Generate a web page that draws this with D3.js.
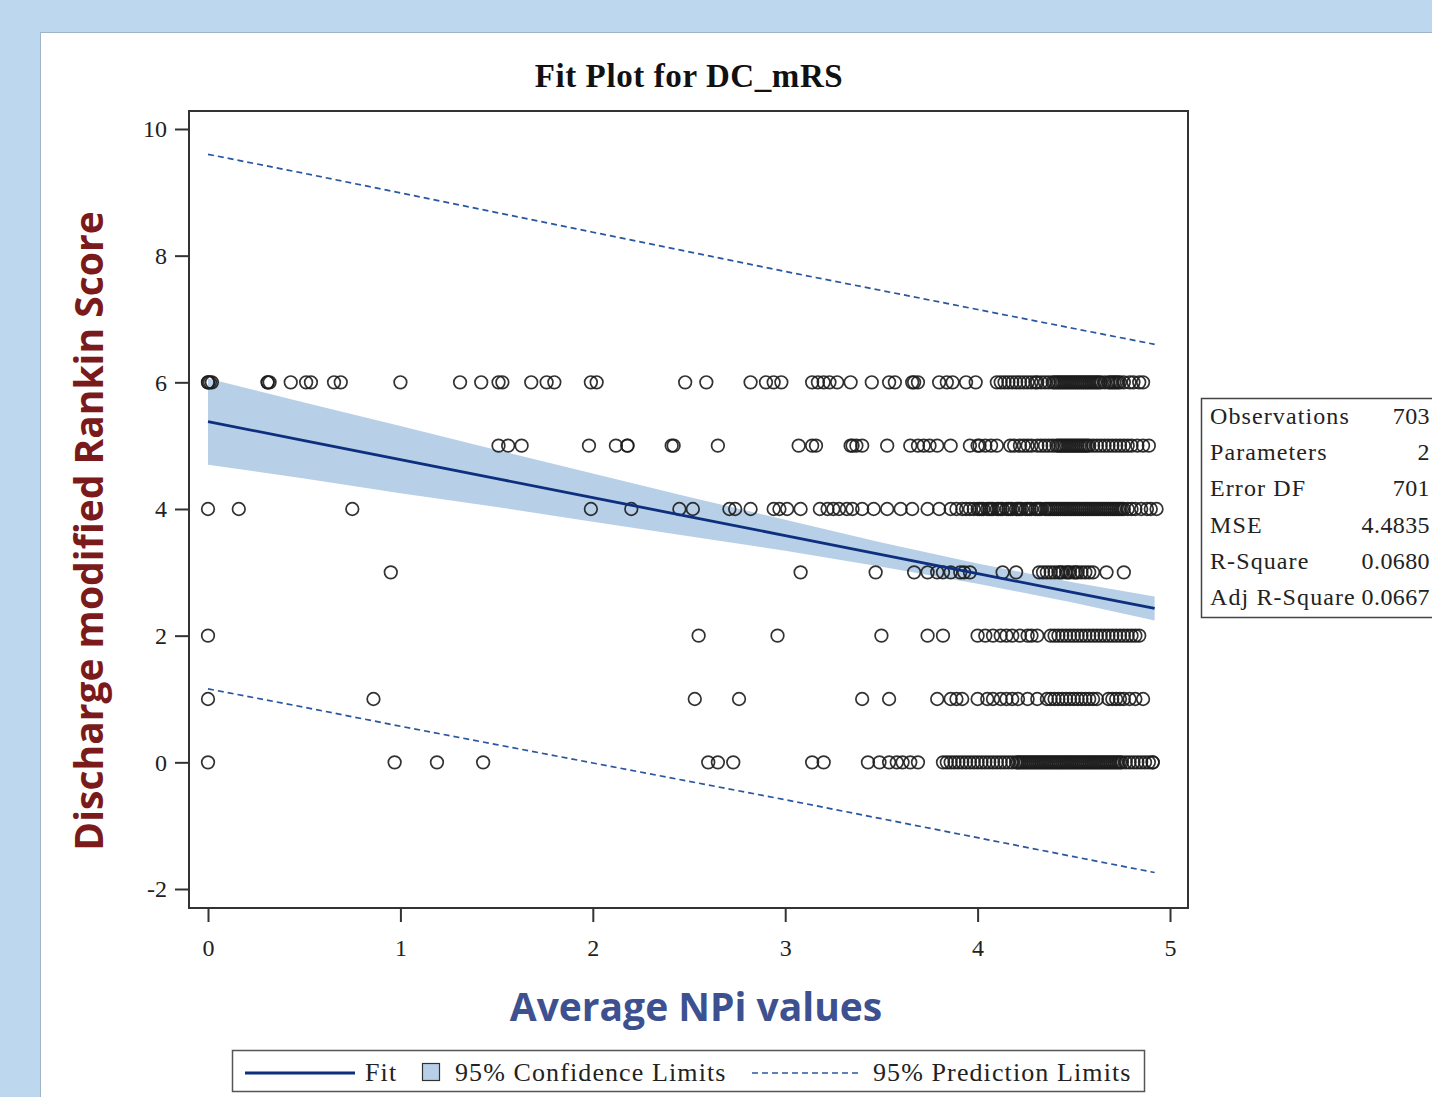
<!DOCTYPE html>
<html><head><meta charset="utf-8">
<script src="https://cdn.jsdelivr.net/npm/d3@7"></script>
<style>
html,body{margin:0;padding:0;background:#bdd7ee;}
svg{display:block;}
</style></head>
<body>
<svg id="chart" width="1432" height="1097"></svg>
<script>
// ---------- data ----------
const title = "Fit Plot for DC_mRS";
const xTitle = "Average NPi values";
const yTitle = "Discharge modified Rankin Score";
const xTicks = [0, 1, 2, 3, 4, 5];
const yTicks = [-2, 0, 2, 4, 6, 8, 10];
const xTickLabels = ["0", "1", "2", "3", "4", "5"];
const yTickLabels = ["-2", "0", "2", "4", "6", "8", "10"];

// observed NPi values for each discharge mRS level
const obs6 = [0.00, 0.00, 0.01, 0.02, 0.31, 0.31, 0.32, 0.43, 0.51, 0.535, 0.655, 0.69, 1.00, 1.31, 1.42, 1.51, 1.53, 1.68, 1.76, 1.80, 1.99, 2.02,
  2.48, 2.59, 2.82, 2.90, 2.94, 2.98, 3.14, 3.17, 3.20, 3.23, 3.27, 3.34, 3.45, 3.54, 3.57, 3.66, 3.67, 3.69, 3.80, 3.84, 3.87, 3.94, 3.99,
  4.10, 4.12, 4.14, 4.16, 4.18, 4.20, 4.22, 4.24, 4.26, 4.28, 4.30, 4.31, 4.33, 4.35, 4.37, 4.39, 4.40, 4.41, 4.42, 4.43, 4.44, 4.45, 4.46,
  4.47, 4.48, 4.49, 4.50, 4.51, 4.52, 4.53, 4.54, 4.55, 4.56, 4.57, 4.58, 4.59, 4.60, 4.61, 4.62, 4.63, 4.64, 4.66, 4.68, 4.69, 4.70, 4.71,
  4.72, 4.73, 4.74, 4.76, 4.79, 4.81, 4.84, 4.86];
const obs5 = [1.51, 1.56, 1.63, 1.98, 2.12, 2.18, 2.18, 2.41, 2.42, 2.65, 3.07, 3.14, 3.16, 3.34, 3.35, 3.37, 3.40, 3.53, 3.65, 3.69, 3.72,
  3.75, 3.79, 3.86, 3.96, 4.00, 4.01, 4.04, 4.07, 4.10, 4.17, 4.19, 4.22, 4.24, 4.26, 4.28, 4.31, 4.33, 4.35, 4.37, 4.39, 4.41, 4.42, 4.43,
  4.44, 4.45, 4.46, 4.47, 4.48, 4.49, 4.50, 4.51, 4.52, 4.53, 4.54, 4.55, 4.56, 4.57, 4.58, 4.60, 4.62, 4.64, 4.66, 4.68, 4.70, 4.72, 4.74,
  4.76, 4.78, 4.80, 4.83, 4.86, 4.89];
const obs4 = [0.00, 0.16, 0.75, 1.99, 2.20, 2.45, 2.52, 2.71, 2.74, 2.82, 2.94, 2.97, 3.01, 3.08, 3.18, 3.22, 3.25, 3.28, 3.32, 3.35, 3.40,
  3.46, 3.53, 3.60, 3.66, 3.74, 3.80, 3.86, 3.89, 3.92, 3.94, 3.96, 3.98, 4.00, 4.01, 4.02, 4.03, 4.05, 4.06, 4.07, 4.08, 4.10, 4.11, 4.12,
  4.13, 4.15, 4.16, 4.17, 4.18, 4.20, 4.21, 4.22, 4.23, 4.25, 4.26, 4.27, 4.28, 4.30, 4.31, 4.32, 4.33, 4.35, 4.36, 4.37, 4.38, 4.39, 4.40,
  4.41, 4.42, 4.43, 4.44, 4.45, 4.46, 4.47, 4.48, 4.49, 4.50, 4.51, 4.52, 4.53, 4.54, 4.55, 4.56, 4.57, 4.58, 4.59, 4.60, 4.61, 4.62, 4.63,
  4.64, 4.65, 4.66, 4.67, 4.68, 4.69, 4.70, 4.71, 4.72, 4.73, 4.74, 4.75, 4.76, 4.78, 4.80, 4.82, 4.85, 4.88, 4.90, 4.93];
const obs3 = [0.95, 3.08, 3.47, 3.67, 3.74, 3.79, 3.82, 3.86, 3.91, 3.93, 3.96, 4.13, 4.20, 4.32, 4.34, 4.36, 4.38, 4.40, 4.42, 4.43, 4.44,
  4.46, 4.47, 4.48, 4.50, 4.51, 4.52, 4.54, 4.56, 4.58, 4.60, 4.67, 4.76];
const obs2 = [0.00, 2.55, 2.96, 3.50, 3.74, 3.82, 4.00, 4.04, 4.08, 4.12, 4.15, 4.18, 4.22, 4.26, 4.28, 4.31, 4.38, 4.40, 4.42, 4.44, 4.46,
  4.48, 4.50, 4.52, 4.54, 4.56, 4.58, 4.60, 4.62, 4.64, 4.66, 4.68, 4.70, 4.72, 4.74, 4.76, 4.78, 4.80, 4.82, 4.84];
const obs1 = [0.00, 0.86, 2.53, 2.76, 3.40, 3.54, 3.79, 3.86, 3.89, 3.92, 4.00, 4.05, 4.08, 4.12, 4.15, 4.18, 4.21, 4.26, 4.31, 4.36, 4.38,
  4.40, 4.42, 4.44, 4.46, 4.48, 4.50, 4.52, 4.54, 4.56, 4.58, 4.60, 4.62, 4.68, 4.70, 4.72, 4.74, 4.76, 4.79, 4.82, 4.86];
const obs0 = [0.00, 0.97, 1.19, 1.43, 2.60, 2.65, 2.73, 3.14, 3.20, 3.43, 3.49, 3.54, 3.58, 3.61, 3.65, 3.69, 3.82, 3.84, 3.86, 3.88, 3.90,
  3.92, 3.94, 3.96, 3.98, 4.00, 4.02, 4.04, 4.06, 4.08, 4.10, 4.12, 4.14, 4.16, 4.18, 4.20, 4.21, 4.22, 4.23, 4.24, 4.25, 4.26, 4.27, 4.28,
  4.29, 4.30, 4.31, 4.32, 4.33, 4.34, 4.35, 4.36, 4.37, 4.38, 4.39, 4.40, 4.41, 4.42, 4.43, 4.44, 4.45, 4.46, 4.47, 4.48, 4.49, 4.50, 4.51,
  4.52, 4.53, 4.54, 4.55, 4.56, 4.57, 4.58, 4.59, 4.60, 4.61, 4.62, 4.63, 4.64, 4.65, 4.66, 4.67, 4.68, 4.69, 4.70, 4.71, 4.72, 4.73, 4.74,
  4.75, 4.77, 4.79, 4.81, 4.83, 4.85, 4.87, 4.89, 4.91, 4.91];
const mrsLevels = [6, 5, 4, 3, 2, 1, 0];
const obsByLevel = [obs6, obs5, obs4, obs3, obs2, obs1, obs0];

// fit, confidence and prediction limits
const fitX    = [0, 0.5, 1, 1.5, 2, 2.5, 3, 3.5, 4, 4.5, 4.92];
const fitY    = [5.38, 5.08, 4.78, 4.48, 4.18, 3.88, 3.58, 3.28, 2.98, 2.68, 2.43];
const upperCL = [6.06, 5.68, 5.31, 4.93, 4.56, 4.19, 3.83, 3.47, 3.14, 2.84, 2.62];
const lowerCL = [4.70, 4.48, 4.25, 4.03, 3.80, 3.57, 3.34, 3.09, 2.82, 2.52, 2.24];
const upperPL = [9.60, 9.30, 8.99, 8.68, 8.37, 8.06, 7.75, 7.45, 7.15, 6.85, 6.60];
const lowerPL = [1.16, 0.87, 0.57, 0.28, -0.01, -0.30, -0.59, -0.89, -1.19, -1.49, -1.74];

// fit statistics
const statLabels = ["Observations", "Parameters", "Error DF", "MSE", "R-Square", "Adj R-Square"];
const statValues = ["703", "2", "701", "4.4835", "0.0680", "0.0667"];

const legendLabels = ["Fit", "95% Confidence Limits", "95% Prediction Limits"];

// ---------- drawing ----------
const svg = d3.select("#chart");
const serif = "'Liberation Serif','Times New Roman',serif";
const sans = "'Open Sans','Noto Sans',sans-serif";

// panel
svg.append("rect").attr("x", 40.5).attr("y", 32.5).attr("width", 1420).attr("height", 1100)
  .attr("fill", "#fff").attr("stroke", "#9fb4c8").attr("stroke-width", 1);

const L = 189, R = 1188, T = 111, B = 908;
const x = d3.scaleLinear().domain([-0.0988, 5.0935]).range([L, R]);
const y = d3.scaleLinear().domain([-2.30, 10.284]).range([B, T]);

// title
svg.append("text").attr("x", 689).attr("y", 87).attr("text-anchor", "middle")
  .attr("font-family", serif).attr("font-weight", "bold").attr("font-size", 33).attr("letter-spacing", 0.6)
  .attr("fill", "#111").text(title);

const plot = svg.append("g");

// confidence band
const band = fitX.map((d, i) => ({x: d, lo: lowerCL[i], hi: upperCL[i]}));
plot.append("path").datum(band)
  .attr("d", d3.area().x(d => x(d.x)).y0(d => y(d.lo)).y1(d => y(d.hi)))
  .attr("fill", "#b8cfe8");

// points
const pts = [];
obsByLevel.forEach((arr, k) => arr.forEach(v => pts.push({x: v, y: mrsLevels[k]})));
plot.append("g").selectAll("circle").data(pts).join("circle")
  .attr("cx", d => x(d.x)).attr("cy", d => y(d.y)).attr("r", 6.3)
  .attr("fill", "none").attr("stroke", "#1c1c1c").attr("stroke-width", 1.7).attr("stroke-opacity", 0.9);

// fit line
const fitPts = fitX.map((d, i) => [x(d), y(fitY[i])]);
plot.append("path").attr("d", d3.line()(fitPts))
  .attr("fill", "none").attr("stroke", "#0d2f7e").attr("stroke-width", 2.8);

// prediction limits
[upperPL, lowerPL].forEach(arr => {
  plot.append("path").attr("d", d3.line()(fitX.map((d, i) => [x(d), y(arr[i])])))
    .attr("fill", "none").attr("stroke", "#2a55a0").attr("stroke-width", 1.7)
    .attr("stroke-dasharray", "6,4");
});

// frame
svg.append("rect").attr("x", L).attr("y", T).attr("width", R - L).attr("height", B - T)
  .attr("fill", "none").attr("stroke", "#333").attr("stroke-width", 2);

// axes
const yAxis = svg.append("g").attr("transform", `translate(${L},0)`)
  .call(d3.axisLeft(y).tickValues(yTicks).tickSize(14).tickSizeOuter(0).tickPadding(8)
    .tickFormat((d, i) => yTickLabels[i]));
const xAxis = svg.append("g").attr("transform", `translate(0,${B})`)
  .call(d3.axisBottom(x).tickValues(xTicks).tickSize(14).tickSizeOuter(0).tickPadding(17)
    .tickFormat((d, i) => xTickLabels[i]));
[yAxis, xAxis].forEach(a => {
  a.select(".domain").remove();
  a.selectAll(".tick line").attr("stroke", "#333").attr("stroke-width", 2);
  a.selectAll(".tick text").attr("font-family", serif).attr("font-size", 24).attr("fill", "#222");
});

// axis titles
svg.append("text").attr("transform", "translate(103,531) rotate(-90)").attr("text-anchor", "middle")
  .attr("font-family", sans).attr("font-weight", "bold").attr("font-size", 39)
  .attr("fill", "#7b1a1a").text(yTitle);
svg.append("text").attr("x", 696).attr("y", 1021).attr("text-anchor", "middle")
  .attr("font-family", sans).attr("font-weight", "bold").attr("font-size", 39)
  .attr("fill", "#3d5190").text(xTitle);

// stats box
const sb = svg.append("g");
sb.append("rect").attr("x", 1201.5).attr("y", 398.5).attr("width", 260).attr("height", 219)
  .attr("fill", "#fff").attr("stroke", "#444").attr("stroke-width", 1.5);
statLabels.forEach((s, i) => {
  sb.append("text").attr("x", 1210).attr("y", 424 + i * 36.2)
    .attr("font-family", serif).attr("font-size", 24).attr("letter-spacing", 1.1).attr("fill", "#222").text(s);
  sb.append("text").attr("x", 1430).attr("y", 424 + i * 36.2).attr("text-anchor", "end")
    .attr("font-family", serif).attr("font-size", 24).attr("letter-spacing", 0.4).attr("fill", "#222").text(statValues[i]);
});

// legend
const lg = svg.append("g");
lg.append("rect").attr("x", 232.5).attr("y", 1050.5).attr("width", 912).attr("height", 41)
  .attr("fill", "#fff").attr("stroke", "#555").attr("stroke-width", 1.5);
lg.append("line").attr("x1", 245).attr("x2", 355).attr("y1", 1073).attr("y2", 1073)
  .attr("stroke", "#0d2f7e").attr("stroke-width", 3);
const legText = (xx, t) => lg.append("text").attr("x", xx).attr("y", 1081).attr("font-family", serif)
  .attr("font-size", 26).attr("letter-spacing", 1.1).attr("fill", "#222").text(t);
legText(365, legendLabels[0]);
lg.append("rect").attr("x", 422.5).attr("y", 1063.5).attr("width", 17).attr("height", 17)
  .attr("fill", "#b8cfe8").attr("stroke", "#333").attr("stroke-width", 1.2);
legText(455, legendLabels[1]);
lg.append("line").attr("x1", 752).attr("x2", 860).attr("y1", 1073).attr("y2", 1073)
  .attr("stroke", "#2a55a0").attr("stroke-width", 1.7).attr("stroke-dasharray", "6,4");
legText(873, legendLabels[2]);
</script>
</body></html>
